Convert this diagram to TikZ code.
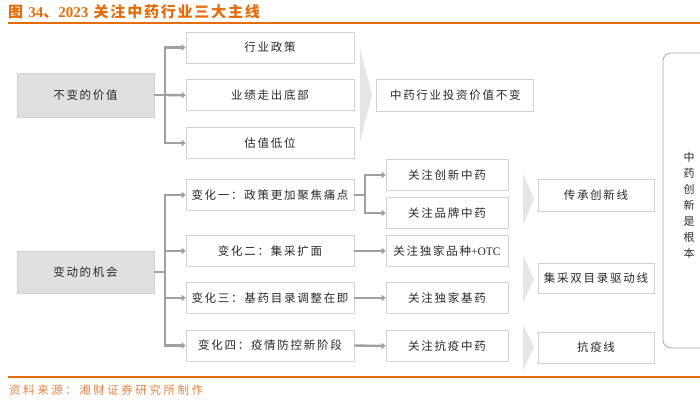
\documentclass[tikz,border=0pt]{standalone}
\usepackage{fontspec}
\setmainfont{Liberation Serif}
\newfontfamily\cjk{Noto Sans CJK SC}[LetterSpace=15]
\newfontfamily\cjkt{Noto Sans CJK SC}[LetterSpace=12]
\newfontfamily\cjkf{Noto Sans CJK SC}[LetterSpace=22]
\usetikzlibrary{positioning,arrows.meta}

\definecolor{titleorange}{RGB}{228,108,10}
\definecolor{footorange}{RGB}{228,130,66}
\definecolor{linegray}{RGB}{160,160,160}
\definecolor{boxgray}{RGB}{224,224,224}
\definecolor{edgegray}{RGB}{208,208,208}
\definecolor{txt}{RGB}{40,40,40}

\tikzset{
	wbox/.style={draw=edgegray, line width=0.8pt, fill=white, minimum width=168pt, minimum height=31pt, inner sep=0pt, text=txt, font=\cjk\fontsize{11.5}{13}\selectfont},
	gbox/.style={wbox, fill=boxgray, minimum width=137pt},
	fbox/.style={wbox, minimum width=122pt},
	rbox/.style={wbox, minimum width=116pt},
	stub/.style={draw=linegray, line width=2.4pt},
	conn/.style={stub, -{Triangle[length=4pt,width=6.5pt]}},
	chev/.style={fill=black!10, draw=none},
}

\begin{document}
\begin{tikzpicture}[x=1pt,y=-1pt,node distance=16pt]
	\useasboundingbox (0,0) rectangle (700,400);

	\node (title) [anchor=west, inner sep=0pt, text=titleorange, font=\cjkt\bfseries\fontsize{15}{17}\selectfont] at (8,12) {图 {\rmfamily 34}、{\rmfamily 2023} 关注中药行业三大主线};
	\draw[titleorange, line width=1.5pt] (8,23) -- (700,23);

	\node (nb) [gbox, minimum height=44pt] at (85.5,95) {不变的价值};
	\node (p1) [wbox] at (270,47.5) {行业政策};
	\node (p2) [wbox, below=of p1] {业绩走出底部};
	\node (p3) [wbox, below=of p2] {估值低位};
	\node (v1) [wbox, minimum width=157pt, minimum height=32pt, right=22pt of p2] {中药行业投资价值不变};
	\fill[chev] (360,48) -- (372,95) -- (360,142) -- cycle;

	\coordinate (nbj) at (165,95);
	\draw[stub] (nb.east) -- (nbj);
	\draw[conn] (nbj) |- (p1.west);
	\draw[conn] (nbj) -- (p2.west);
	\draw[conn] (nbj) |- (p3.west);

	\node (bd) [gbox, minimum height=42pt] at (85.5,272) {变动的机会};
	\node (c1) [wbox] at (270,195) {变化一：政策更加聚焦痛点};
	\node (c2) [wbox] at (270,251) {变化二：集采扩面};
	\node (c3) [wbox] at (270,298) {变化三：基药目录调整在即};
	\node (c4) [wbox] at (270,345.5) {变化四：疫情防控新阶段};

	\coordinate (bdj) at (165,272);
	\draw[stub] (bd.east) -- (bdj);
	\draw[conn] (bdj) |- (c1.west);
	\draw[conn] (bdj) |- (c2.west);
	\draw[conn] (bdj) |- (c3.west);
	\draw[conn] (bdj) |- (c4.west);

	\node (f1) [fbox] at (447,175) {关注创新中药};
	\node (f2) [fbox] at (447,213) {关注品牌中药};
	\node (f3) [fbox] at (447,251) {关注独家品种{\rmfamily +OTC}};
	\node (f4) [fbox] at (447,298) {关注独家基药};
	\node (f5) [fbox] at (447,346) {关注抗疫中药};

	\coordinate (c1j) at (365,195);
	\draw[stub] (c1.east) -- (c1j);
	\draw[conn] (c1j) |- (f1.west);
	\draw[conn] (c1j) |- (f2.west);
	\draw[conn] (c2.east) -- (f3.west);
	\draw[conn] (c3.east) -- (f4.west);
	\draw[conn] (c4.east) -- (f5.west);

	\fill[chev] (523,173) -- (534,199) -- (523,225) -- cycle;
	\fill[chev] (523,255) -- (534,279) -- (523,303) -- cycle;
	\fill[chev] (523,325) -- (534,347) -- (523,370) -- cycle;

	\node (r1) [rbox, minimum height=32pt] at (596,195) {传承创新线};
	\node (r2) [rbox, minimum height=30pt] at (596,278.5) {集采双目录驱动线};
	\node (r3) [rbox] at (596,347.5) {抗疫线};

	\draw[black!35, line width=0.8pt, rounded corners=8pt] (700,53) -- (663,53) -- (663,348) -- (700,348);
	\node (root) [align=center, inner sep=0pt, text=txt, font=\cjk\fontsize{11}{16}\selectfont] at (689,205) {中\\药\\创\\新\\是\\根\\本};

	\draw[titleorange, line width=1.5pt] (8,377) -- (700,377);
	\node (src) [anchor=west, inner sep=0pt, text=footorange, font=\cjkf\fontsize{11.5}{13}\selectfont] at (9,390) {资料来源：湘财证券研究所制作};
\end{tikzpicture}
\end{document}
